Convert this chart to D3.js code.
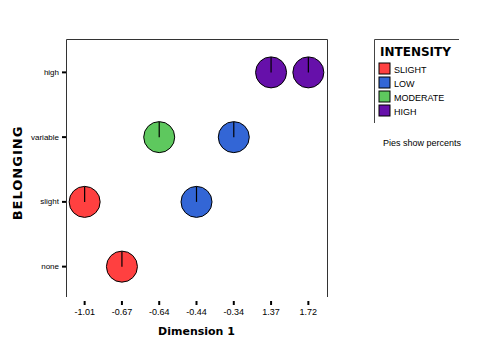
<!DOCTYPE html>
<html>
<head>
<meta charset="utf-8">
<script src="https://cdn.jsdelivr.net/npm/d3@7"></script>
<style>
  body { margin: 0; background: #fff; }
  text { font-family: "Liberation Sans", Arial, sans-serif; }
</style>
</head>
<body>
<div id="chart"></div>
<script>
// tick labels / categories
var dimLabels = ["-1.01", "-0.67", "-0.64", "-0.44", "-0.34", "1.37", "1.72"];
var belongLevels = ["high", "variable", "slight", "none"];
var intensityLevels = ["SLIGHT", "LOW", "MODERATE", "HIGH"];
var intensityColors = ["#ff4040", "#3366d6", "#5ec85e", "#6610aa"];

// one pie per point
var pointDim = ["-1.01", "-0.67", "-0.64", "-0.44", "-0.34", "1.37", "1.72"];
var pointBelong = ["slight", "none", "variable", "slight", "variable", "high", "high"];
var pointIntensity = ["SLIGHT", "SLIGHT", "MODERATE", "LOW", "LOW", "HIGH", "HIGH"];
var pointPercent = [100, 100, 100, 100, 100, 100, 100];

var points = pointDim.map(function(d, i) {
  return { dim: d, belong: pointBelong[i], intensity: pointIntensity[i], pct: pointPercent[i] };
});

var W = 477, H = 353;
var plotL = 66, plotR = 327, plotT = 39, plotB = 297;

var svg = d3.select("#chart").append("svg")
  .attr("width", W).attr("height", H);

var x = d3.scaleBand().domain(dimLabels).range([plotL, plotR]);
var y = d3.scaleBand().domain(belongLevels).range([plotT + 1, plotB + 2]);
var color = d3.scaleOrdinal().domain(intensityLevels).range(intensityColors);

// frame: left, top, right (bottom open)
svg.append("path")
  .attr("d", "M" + (plotL + 0.5) + "," + plotB + "V" + (plotT + 0.5) + "H" + (plotR + 0.5) + "V" + plotB)
  .attr("fill", "none")
  .attr("stroke", "#333")
  .attr("stroke-width", 1);

// x axis (ticks under the frame)
var xAxis = svg.append("g")
  .attr("transform", "translate(0," + (plotB + 4) + ")")
  .call(d3.axisBottom(x).tickSize(4).tickPadding(4));
xAxis.select(".domain").remove();
xAxis.selectAll(".tick line").attr("stroke", "#000").attr("stroke-width", 2);
xAxis.selectAll(".tick text").attr("font-size", "9px").attr("fill", "#000")
  .style("font-family", "'Liberation Sans', Arial, sans-serif");

// y axis
var yAxis = svg.append("g")
  .attr("transform", "translate(" + plotL + ",0)")
  .call(d3.axisLeft(y).tickSize(4).tickPadding(3));
yAxis.select(".domain").remove();
yAxis.selectAll(".tick line").attr("stroke", "#000").attr("stroke-width", 2);
yAxis.selectAll(".tick text").attr("font-size", "8px").attr("fill", "#000")
  .style("font-family", "'Liberation Sans', Arial, sans-serif");

// axis titles
svg.append("text")
  .attr("x", (plotL + plotR) / 2)
  .attr("y", 335)
  .attr("text-anchor", "middle")
  .attr("font-size", "11px")
  .attr("font-weight", "bold")
  .style("font-family", "Verdana, 'DejaVu Sans', sans-serif")
  .text("Dimension 1");

svg.append("text")
  .attr("transform", "translate(22," + ((plotT + plotB) / 2 + 5) + ") rotate(-90)")
  .attr("text-anchor", "middle")
  .attr("font-size", "13px")
  .attr("font-weight", "bold")
  .style("font-family", "Verdana, 'DejaVu Sans', sans-serif")
  .style("letter-spacing", "1px")
  .text("BELONGING");

// pies
var r = 15.5;
var pie = d3.pie().sort(null).value(function(d) { return d; });
var arc = d3.arc().innerRadius(0).outerRadius(r);

var pies = svg.selectAll(".pie")
  .data(points)
  .enter().append("g")
  .attr("class", "pie")
  .attr("transform", function(d) {
    return "translate(" + (x(d.dim) + x.bandwidth() / 2) + "," + (y(d.belong) + y.bandwidth() / 2) + ")";
  });

pies.selectAll("path")
  .data(function(d) { return pie([d.pct]).map(function(s) { s.intensity = d.intensity; return s; }); })
  .enter().append("path")
  .attr("d", arc)
  .attr("fill", function(d) { return color(d.intensity); })
  .attr("stroke", "#000")
  .attr("stroke-width", 1);

pies.append("line")
  .attr("x1", 0).attr("y1", 0)
  .attr("x2", 0).attr("y2", -r)
  .attr("stroke", "#000")
  .attr("stroke-width", 1.2);

// legend
var lg = svg.append("g").attr("transform", "translate(374,39)");
lg.append("path")
  .attr("d", "M0.5,84V0.5H85")
  .attr("fill", "none")
  .attr("stroke", "#444");
lg.append("text")
  .attr("x", 6).attr("y", 17)
  .attr("font-size", "12px")
  .attr("font-weight", "bold")
  .style("font-family", "Verdana, 'DejaVu Sans', sans-serif")
  .text("INTENSITY");

var items = lg.selectAll(".item")
  .data(intensityLevels)
  .enter().append("g")
  .attr("transform", function(d, i) { return "translate(5," + (24 + i * 14) + ")"; });
items.append("rect")
  .attr("width", 11).attr("height", 11)
  .attr("fill", function(d) { return color(d); })
  .attr("stroke", "#000");
items.append("text")
  .attr("x", 15).attr("y", 9.5)
  .attr("font-size", "9px")
  .text(function(d) { return d; });

svg.append("text")
  .attr("x", 383).attr("y", 146)
  .attr("font-size", "9px")
  .text("Pies show percents");
</script>
</body>
</html>
